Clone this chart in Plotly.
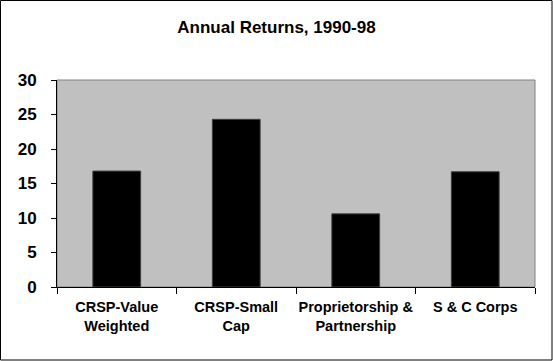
import plotly.graph_objects as go

categories = ["CRSP-Value<br>Weighted", "CRSP-Small<br>Cap", "Proprietorship &<br>Partnership", "S & C Corps"]
returns = [16.8, 24.3, 10.6, 16.7]
y_ticks = [0, 5, 10, 15, 20, 25, 30]

W, H = 553, 361
L, R, T, B = 57, 18, 80, 74
pw, ph = W - L - R, H - T - B

font = "Liberation Sans, Arial, sans-serif"

fig = go.Figure()
fig.add_trace(go.Bar(
    x=categories, y=returns,
    marker=dict(color="black", line=dict(color="#404040", width=1)),
    width=0.4,
))

fig.update_layout(
    width=W, height=H,
    margin=dict(l=L, r=R, t=T, b=B, pad=0, autoexpand=False),
    paper_bgcolor="white",
    plot_bgcolor="#C0C0C0",
    showlegend=False,
    title=dict(text="<b>Annual Returns, 1990-98</b>", x=0.5, xanchor="center",
               y=1 - 27 / H, yanchor="middle", automargin=False,
               font=dict(family=font, size=17, color="black")),
    font=dict(family=font, color="black"),
    xaxis=dict(
        type="category", showgrid=False, showline=True, linecolor="black", linewidth=1,
        ticks="outside", ticklen=6, tickcolor="black", tickson="boundaries",
        tickangle=0, automargin=False,
        tickfont=dict(family=font, size=14.5, color="black", weight="bold"),
        ticklabelstandoff=7,
    ),
    yaxis=dict(
        range=[0, 30], tickvals=y_ticks, showgrid=False, zeroline=False,
        showline=True, linecolor="black", linewidth=1, automargin=False,
        ticks="outside", ticklen=5, tickcolor="black",
        tickfont=dict(family=font, size=17, color="black", weight="bold"),
        ticklabelstandoff=11,
    ),
    shapes=[
        dict(type="rect", xref="paper", yref="paper", x0=0, x1=1, y0=0, y1=1,
             line=dict(color="#808080", width=1), layer="below"),
        dict(type="rect", xref="paper", yref="paper",
             x0=(0.5 - L) / pw, x1=(W - 1 - L) / pw,
             y0=-(B - 1) / ph, y1=1 + (T - 0.5) / ph,
             line=dict(color="black", width=1), layer="below"),
    ],
)

fig.write_html("out.html", config={"displayModeBar": False},
               post_script="document.body.style.margin='0';document.body.style.overflow='hidden';")
